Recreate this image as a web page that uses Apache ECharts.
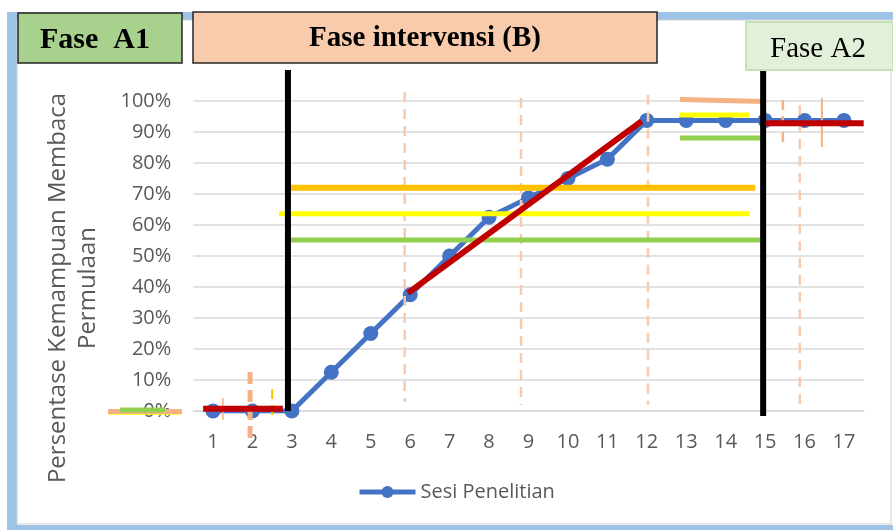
<!DOCTYPE html>
<html>
<head>
<meta charset="UTF-8">
<title>Sesi Penelitian</title>
<script src="https://cdn.jsdelivr.net/npm/echarts@6/dist/echarts.min.js"></script>
<style>
html, body { margin: 0; padding: 0; background: #fff; }
#chart { width: 893px; height: 530px; }
</style>
</head>
<body>
<div id="chart"></div>
<script>
// sesi penelitian dan skor (persen)
var sesi = ['1','2','3','4','5','6','7','8','9','10','11','12','13','14','15','16','17'];
var skor = [0, 0, 0, 12.5, 25, 37.5, 50, 62.5, 68.75, 75, 81.25, 93.75, 93.75, 93.75, 93.75, 93.75, 93.75];

// garis bantu: [sesi, persen]
var batasA1B = [[2.9, 110], [2.9, 0]];
var batasBA2 = [[14.95, 110], [14.95, -1.6]];
var trenA1 = [[0.75, 0.7], [2.77, 0.7]];
var trenB = [[5.94, 38], [11.87, 93.5]];
var trenA2 = [[14.94, 92.8], [17.5, 92.8]];
var garisOranye = [[2.85, 72], [14.75, 72]];
var garisKuning = [[2.67, 63.6], [14.6, 63.6]];
var garisHijau = [[2.83, 55.2], [14.99, 55.2]];
var a2Salmon = [[12.84, 100.5], [15.0, 99.8]];
var a2Kuning = [[12.84, 95.5], [14.6, 95.5]];
var a2Hijau = [[12.84, 88.1], [15.0, 88.1]];
var kiriSalmon = [[-1.66, -0.2], [0.21, -0.2]];
var kiriKuning = [[-1.66, -0.9], [0.21, -0.9]];
var kiriHijau = [[-1.36, 0.3], [-0.22, 0.3]];
var putus1 = [[5.86, 102.9], [5.86, 2.9]];
var putus2 = [[8.81, 101], [8.81, 1.9]];
var putus3 = [[12.03, 102], [12.03, 1.9]];
var putus4 = [[15.88, 98.7], [15.88, 0.3]];
var putusA2 = [[15.45, 100.3], [15.45, 84.8]];
var tegakA2 = [[16.44, 101], [16.44, 85.2]];
var putusA1 = [[1.94, 12.6], [1.94, -8.7]];
var tegakA1 = [[1.25, 4.2], [1.25, -2.9]];
var oranyeA1 = [[2.5, 7.1], [2.5, -2.3]];

function garis(data, warna, tebal, tipe, z) {
    return {
        type: 'line',
        xAxisIndex: 1,
        yAxisIndex: 1,
        data: data,
        symbol: 'none',
        clip: false,
        silent: true,
        z: z || 3,
        lineStyle: { color: warna, width: tebal, type: tipe || 'solid', cap: 'butt' }
    };
}

var myChart = echarts.init(document.getElementById('chart'));
var teks = '#595959';
var lebarSesi = (893 - 193.3 - 29.3) / 17;
var option = {
    backgroundColor: '#fff',
    animation: false,
    grid: [
        { left: 193.3, right: 29.3, top: 101, bottom: 119 },
        // grid bantu, sama skalanya tapi 4 sesi lebih lebar ke kiri
        { left: 193.3 - 4 * lebarSesi, right: 29.3, top: 101, bottom: 119 }
    ],
    legend: {
        data: ['Sesi Penelitian'],
        left: 352, top: 477,
        itemWidth: 56, itemHeight: 15, itemGap: 4,
        lineStyle: { width: 5 },
        textStyle: { fontSize: 20, color: teks, fontFamily: 'Open Sans' }
    },
    xAxis: [{
        type: 'category',
        data: sesi,
        boundaryGap: true,
        axisLine: { lineStyle: { color: '#d9d9d9', width: 1.5 } },
        axisTick: { show: false },
        axisLabel: { fontSize: 20, color: teks, margin: 21, fontFamily: 'Open Sans' }
    }, {
        type: 'value',
        gridIndex: 1,
        min: -3.5, max: 17.5,
        show: false
    }],
    yAxis: [{
        type: 'value',
        min: 0, max: 100, interval: 10,
        axisLine: { show: false },
        axisTick: { show: false },
        axisLabel: { formatter: '{value}%', fontSize: 20, color: teks, margin: 22, fontFamily: 'Open Sans' },
        splitLine: { lineStyle: { color: '#d9d9d9', width: 1.5 } },
        name: 'Persentase Kemampuan Membaca\nPermulaan',
        nameLocation: 'middle',
        nameGap: 90,
        nameTextStyle: { fontSize: 24, color: teks, lineHeight: 30, fontFamily: 'Open Sans', padding: [0, 64, 0, 0] }
    }, {
        type: 'value',
        gridIndex: 1,
        min: 0, max: 100,
        show: false
    }],
    graphic: [
        { type: 'rect', shape: { x: 7, y: 12, width: 10, height: 518 }, style: { fill: '#9dc3e6' }, z: 1 },
        { type: 'rect', shape: { x: 7, y: 12, width: 886, height: 8 }, style: { fill: '#9dc3e6' }, z: 1 },
        { type: 'rect', shape: { x: 7, y: 525, width: 886, height: 5 }, style: { fill: '#9dc3e6' }, z: 1 },
        { type: 'rect', shape: { x: 17, y: 20, width: 874, height: 504 }, style: { fill: 'none', stroke: '#d0d0d0', lineWidth: 1 }, z: 1 },
        { type: 'rect', shape: { x: 18, y: 13, width: 164, height: 50 }, style: { fill: '#a9d18e', stroke: '#262626', lineWidth: 1.5 }, z: 10 },
        { type: 'text', x: 95, y: 40, style: { text: 'Fase  A1', font: 'bold 30px "Liberation Serif"', fill: '#000', textAlign: 'center', textVerticalAlign: 'middle' }, z: 11 },
        { type: 'rect', shape: { x: 193, y: 12, width: 464, height: 51 }, style: { fill: '#f8cbad', stroke: '#262626', lineWidth: 1.5 }, z: 10 },
        { type: 'text', x: 425, y: 39, style: { text: 'Fase intervensi (B)', font: 'bold 29px "Liberation Serif"', fill: '#000', textAlign: 'center', textVerticalAlign: 'middle' }, z: 11 },
        { type: 'rect', shape: { x: 746, y: 22, width: 147, height: 48 }, style: { fill: '#e2f0d9', stroke: '#c5e0b4', lineWidth: 2 }, z: 10 },
        { type: 'text', x: 818, y: 49, style: { text: 'Fase A2', font: '29px "Liberation Serif"', fill: '#000', textAlign: 'center', textVerticalAlign: 'middle' }, z: 11 }
    ],
    series: [
        {
            name: 'Sesi Penelitian',
            type: 'line',
            data: skor,
            symbol: 'circle',
            symbolSize: 15,
            z: 2,
            lineStyle: { color: '#4472c4', width: 5 },
            itemStyle: { color: '#4472c4' }
        },
        garis(putus1, '#f8cbad', 2.5, [10, 7]),
        garis(putus2, '#f8cbad', 2.5, [10, 7]),
        garis(putus3, '#f8cbad', 2.5, [10, 7]),
        garis(putus4, '#f8cbad', 2.5, [10, 7]),
        garis(putusA2, '#f4b183', 2.5, [10, 6]),
        garis(tegakA2, '#f4b183', 2),
        garis(putusA1, '#f4b183', 5, [12, 6]),
        garis(tegakA1, '#f4b183', 1.5),
        garis(oranyeA1, '#ffc000', 2, [10, 6]),
        garis(kiriKuning, '#ffff00', 2, 'solid', 4),
        garis(kiriSalmon, '#f4b183', 5, 'solid', 4),
        garis(kiriHijau, '#92d050', 5, 'solid', 4),
        garis(garisOranye, '#ffc000', 6, 'solid', 4),
        garis(garisKuning, '#ffff00', 5, 'solid', 4),
        garis(garisHijau, '#92d050', 5, 'solid', 4),
        garis(a2Salmon, '#f4b183', 5, 'solid', 4),
        garis(a2Kuning, '#ffff00', 5, 'solid', 4),
        garis(a2Hijau, '#92d050', 5, 'solid', 4),
        garis(trenA1, '#c00000', 6, 'solid', 5),
        garis(trenB, '#c00000', 6, 'solid', 5),
        garis(trenA2, '#c00000', 6, 'solid', 5),
        garis(batasA1B, '#000', 6, 'solid', 6),
        garis(batasBA2, '#000', 6, 'solid', 6)
    ]
};
myChart.setOption(option);
</script>
</body>
</html>
